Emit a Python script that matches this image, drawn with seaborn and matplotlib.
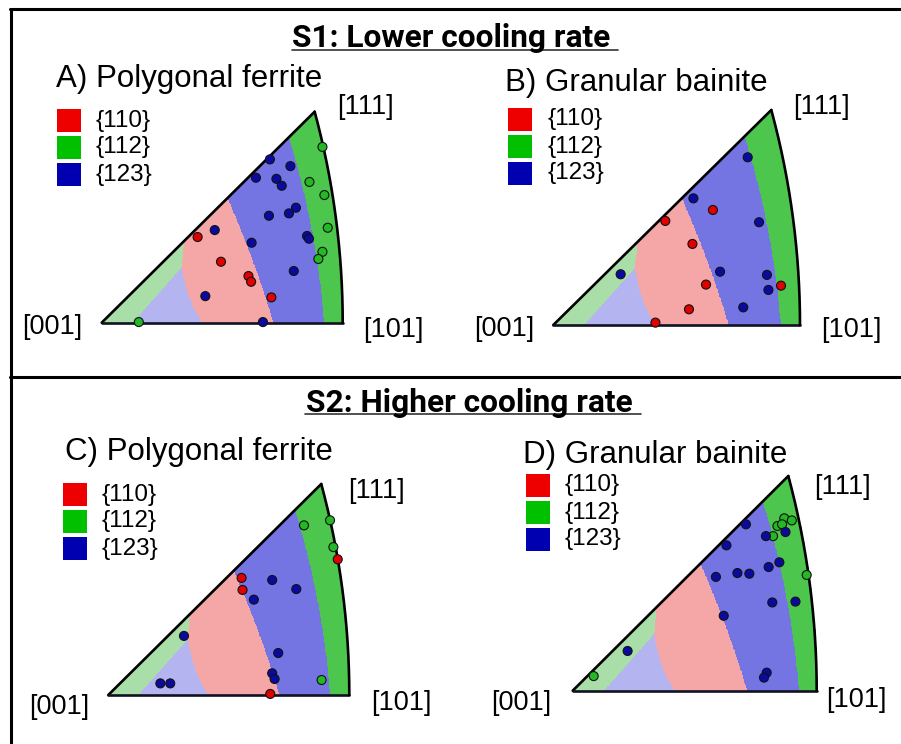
import numpy as np
import pandas as pd
import seaborn as sns
import matplotlib.pyplot as plt
from matplotlib.lines import Line2D
from matplotlib.patches import Rectangle
from itertools import permutations, product

sns.set_theme(style="white")
plt.rcParams['font.family'] = ['Liberation Sans', 'DejaVu Sans']
plt.rcParams['text.color'] = 'black'

W_PX, H_PX = 901, 744

families = ['{110}', '{112}', '{123}']
legend_colors = ['#ee0000', '#00c000', '#0000b0']
point_colors = {'{110}': '#e00000', '{112}': '#25b825', '{123}': '#0a0aa0'}

# point positions: u = fraction of [001]-[101] width, v = fraction of [111] height
A_u = [0.916, 0.862, 0.924, 0.938, 0.916, 0.899, 0.154,
       0.698, 0.783, 0.640, 0.725, 0.747, 0.806, 0.777, 0.694, 0.469, 0.852, 0.860, 0.622, 0.797, 0.430, 0.669,
       0.398, 0.495, 0.609, 0.620, 0.704]
A_v = [0.833, 0.667, 0.605, 0.450, 0.336, 0.302, 0.003,
       0.774, 0.742, 0.687, 0.682, 0.649, 0.545, 0.518, 0.507, 0.439, 0.411, 0.398, 0.379, 0.245, 0.126, 0.003,
       0.406, 0.289, 0.221, 0.194, 0.120]
A_hkl = ['{112}'] * 7 + ['{123}'] * 15 + ['{110}'] * 5

B_u = [0.788, 0.568, 0.834, 0.273, 0.676, 0.866, 0.872, 0.770,
       0.647, 0.454, 0.564, 0.619, 0.923, 0.550, 0.414]
B_v = [0.780, 0.589, 0.478, 0.236, 0.248, 0.233, 0.163, 0.082,
       0.535, 0.484, 0.377, 0.188, 0.183, 0.073, 0.011]
B_hkl = ['{123}'] * 8 + ['{110}'] * 7

C_u = [0.920, 0.812, 0.934, 0.885,
       0.952, 0.553, 0.557, 0.672,
       0.680, 0.780, 0.604, 0.314, 0.705, 0.680, 0.690, 0.216, 0.257]
C_v = [0.828, 0.804, 0.701, 0.071,
       0.643, 0.555, 0.498, 0.005,
       0.545, 0.502, 0.452, 0.280, 0.199, 0.103, 0.076, 0.055, 0.055]
C_hkl = ['{112}'] * 4 + ['{110}'] * 4 + ['{123}'] * 9

D_u = [0.867, 0.898, 0.839, 0.858, 0.821, 0.959, 0.086,
       0.710, 0.792, 0.872, 0.630, 0.847, 0.803, 0.587, 0.675, 0.724, 0.818, 0.913, 0.619, 0.225, 0.795, 0.784]
D_v = [0.803, 0.793, 0.767, 0.775, 0.720, 0.539, 0.068,
       0.775, 0.720, 0.739, 0.677, 0.598, 0.576, 0.530, 0.548, 0.545, 0.411, 0.415, 0.349, 0.185, 0.084, 0.061]
D_hkl = ['{112}'] * 7 + ['{123}'] * 15

panel_titles = ['A) Polygonal ferrite', 'B) Granular bainite', 'C) Polygonal ferrite', 'D) Granular bainite']
section_titles = ['S1: Lower cooling rate', 'S2: Higher cooling rate']


def fx(x):
    return x / W_PX


def fy(y):
    return 1 - y / H_PX


# ---- slip-plane map of the standard triangle (highest Schmid factor family) ----
X101 = np.tan(np.pi / 8)
Y111 = 1 / (np.sqrt(3) + 1)
uu, vv = np.meshgrid(np.linspace(0, 1, 420), np.linspace(0, 1, 380))
X, Y = uu * X101, vv * Y111
r2 = X ** 2 + Y ** 2
d = np.stack([2 * X, 2 * Y, 1 - r2], axis=-1) / (1 + r2)[..., None]
inside = (Y <= X) & (d[..., 0] <= d[..., 2])
dflat = d.reshape(-1, 3)

slip_dirs = np.array([[1, 1, 1], [-1, 1, 1], [1, -1, 1], [1, 1, -1]], float)


def plane_normals(base):
    out = set()
    for p in permutations(base):
        for s in product([1, -1], repeat=3):
            out.add(tuple(a * b for a, b in zip(p, s)))
    return np.array(sorted(out), float)


fam_max = []
for base in [(1, 1, 0), (1, 1, 2), (1, 2, 3)]:
    n = plane_normals(base)
    n /= np.linalg.norm(n, axis=1)[:, None]
    best = np.zeros(len(dflat))
    for b in slip_dirs:
        valid = np.abs(n @ b) < 1e-9
        bn = b / np.linalg.norm(b)
        m = np.abs(dflat @ n[valid].T) * np.abs(dflat @ bn)[:, None]
        best = np.maximum(best, m.max(axis=1))
    fam_max.append(best)
label = np.argmax(np.stack(fam_max), axis=0).reshape(uu.shape)
strong = (2 * d[..., 0] + d[..., 1] - d[..., 2]) > 0

shade_light = {0: '#f5a6a6', 1: '#a9dea9', 2: '#b4b4f0'}
shade_strong = {0: '#f5a6a6', 1: '#4cc64c', 2: '#7474e2'}
rgba = np.zeros(uu.shape + (4,))
for k in range(3):
    for mask, shades in [(~strong, shade_light), (strong, shade_strong)]:
        sel = (label == k) & mask & inside
        rgba[sel] = plt.matplotlib.colors.to_rgba(shades[k])

t = np.linspace(0, 1, 200)
arc_d = np.stack([np.ones_like(t), t, np.ones_like(t)], axis=1)
arc_d /= np.linalg.norm(arc_d, axis=1)[:, None]
arc_u = arc_d[:, 0] / (1 + arc_d[:, 2]) / X101
arc_v = arc_d[:, 1] / (1 + arc_d[:, 2]) / Y111
u111 = Y111 / X101

fig = plt.figure(figsize=(W_PX / 100, H_PX / 100), dpi=100)

# panel geometry in pixels: [001] corner x, y, width to [101], height to [111]
geom = [(101.7, 322.7, 241, 211), (553.3, 325, 246.7, 215),
        (108.3, 695, 241, 211), (572.7, 690.7, 244, 214.7)]
data = [(A_u, A_v, A_hkl), (B_u, B_v, B_hkl), (C_u, C_v, C_hkl), (D_u, D_v, D_hkl)]
xl, yl = (-0.05, 1.05), (-0.05, 1.05)

for (px0, py0, w, h), (u, v, hkl) in zip(geom, data):
    left, right = px0 + xl[0] * w, px0 + xl[1] * w
    top, bottom = py0 - yl[1] * h, py0 - yl[0] * h
    ax = fig.add_axes([fx(left), fy(bottom), (right - left) / W_PX, (bottom - top) / H_PX])
    ax.imshow(rgba, extent=(0, 1, 0, 1), origin='lower', interpolation='nearest', aspect='auto')
    ax.plot([0, u111], [0, 1], color='black', lw=1.9, solid_capstyle='round')
    ax.plot([0, 1], [0, 0], color='#111122', lw=1.9)
    ax.plot(arc_u, arc_v, color='black', lw=1.9, solid_capstyle='round')
    df = pd.DataFrame({'u': u, 'v': v, 'hkl': hkl})
    sns.scatterplot(data=df, x='u', y='v', hue='hkl', hue_order=families, palette=point_colors,
                    s=42, edgecolor='#111111', linewidth=0.8, legend=False, ax=ax, zorder=3, clip_on=False)
    ax.set_xlim(*xl)
    ax.set_ylim(*yl)
    ax.axis('off')

# vertex labels
vertex_pos = [[(365, 107), (52.5, 327), (393, 330)],
              [(821.5, 107), (504, 329), (851, 330)],
              [(376, 491), (59, 707), (401, 703)],
              [(842, 487), (521.5, 703), (856, 700)]]
for pos in vertex_pos:
    for txt, (x, y) in zip(['[111]', '[001]', '[101]'], pos):
        fig.text(fx(x), fy(y), txt, ha='center', va='center', fontsize=19.5)

# panel titles
title_pos = [(56, 87), (505, 91.5), (65, 460), (523, 463)]
for txt, (x, y) in zip(panel_titles, title_pos):
    fig.text(fx(x), fy(y), txt, ha='left', va='baseline', fontsize=22.5)

# legends
legend_pos = [(57, 109, 96), (508, 108, 548), (63, 483, 102), (526, 474, 565)]
for x0, y0, xt in legend_pos:
    for i, (name, col) in enumerate(zip(families, legend_colors)):
        ytop = y0 + i * 27
        fig.add_artist(Rectangle((fx(x0), fy(ytop + 23)), 24 / W_PX, 23 / H_PX,
                                 transform=fig.transFigure, facecolor=col, edgecolor='none'))
        fig.text(fx(xt), fy(ytop + 11.5), name, ha='left', va='center', fontsize=17.5)

# section titles with underline
for txt, xc, yb, (ux0, ux1, uy) in zip(section_titles, [451, 469], [47, 411.5],
                                       [(292, 618, 49.5), (305, 641, 414)]):
    fig.text(fx(xc), fy(yb), txt, ha='center', va='baseline', fontsize=22.8,
             fontweight='bold', family=['Roboto', 'DejaVu Sans'])
    fig.add_artist(Line2D([fx(ux0), fx(ux1)], [fy(uy), fy(uy)], transform=fig.transFigure,
                          color='#333333', lw=1.2))

# frame
for xs, ys in [([10, 901], [8.5, 8.5]), ([10.5, 10.5], [8.5, 744]), ([10, 901], [376.5, 376.5])]:
    fig.add_artist(Line2D([fx(x) for x in xs], [fy(y) for y in ys], transform=fig.transFigure,
                          color='black', lw=2.2))

fig.savefig('out.png', dpi=100)
